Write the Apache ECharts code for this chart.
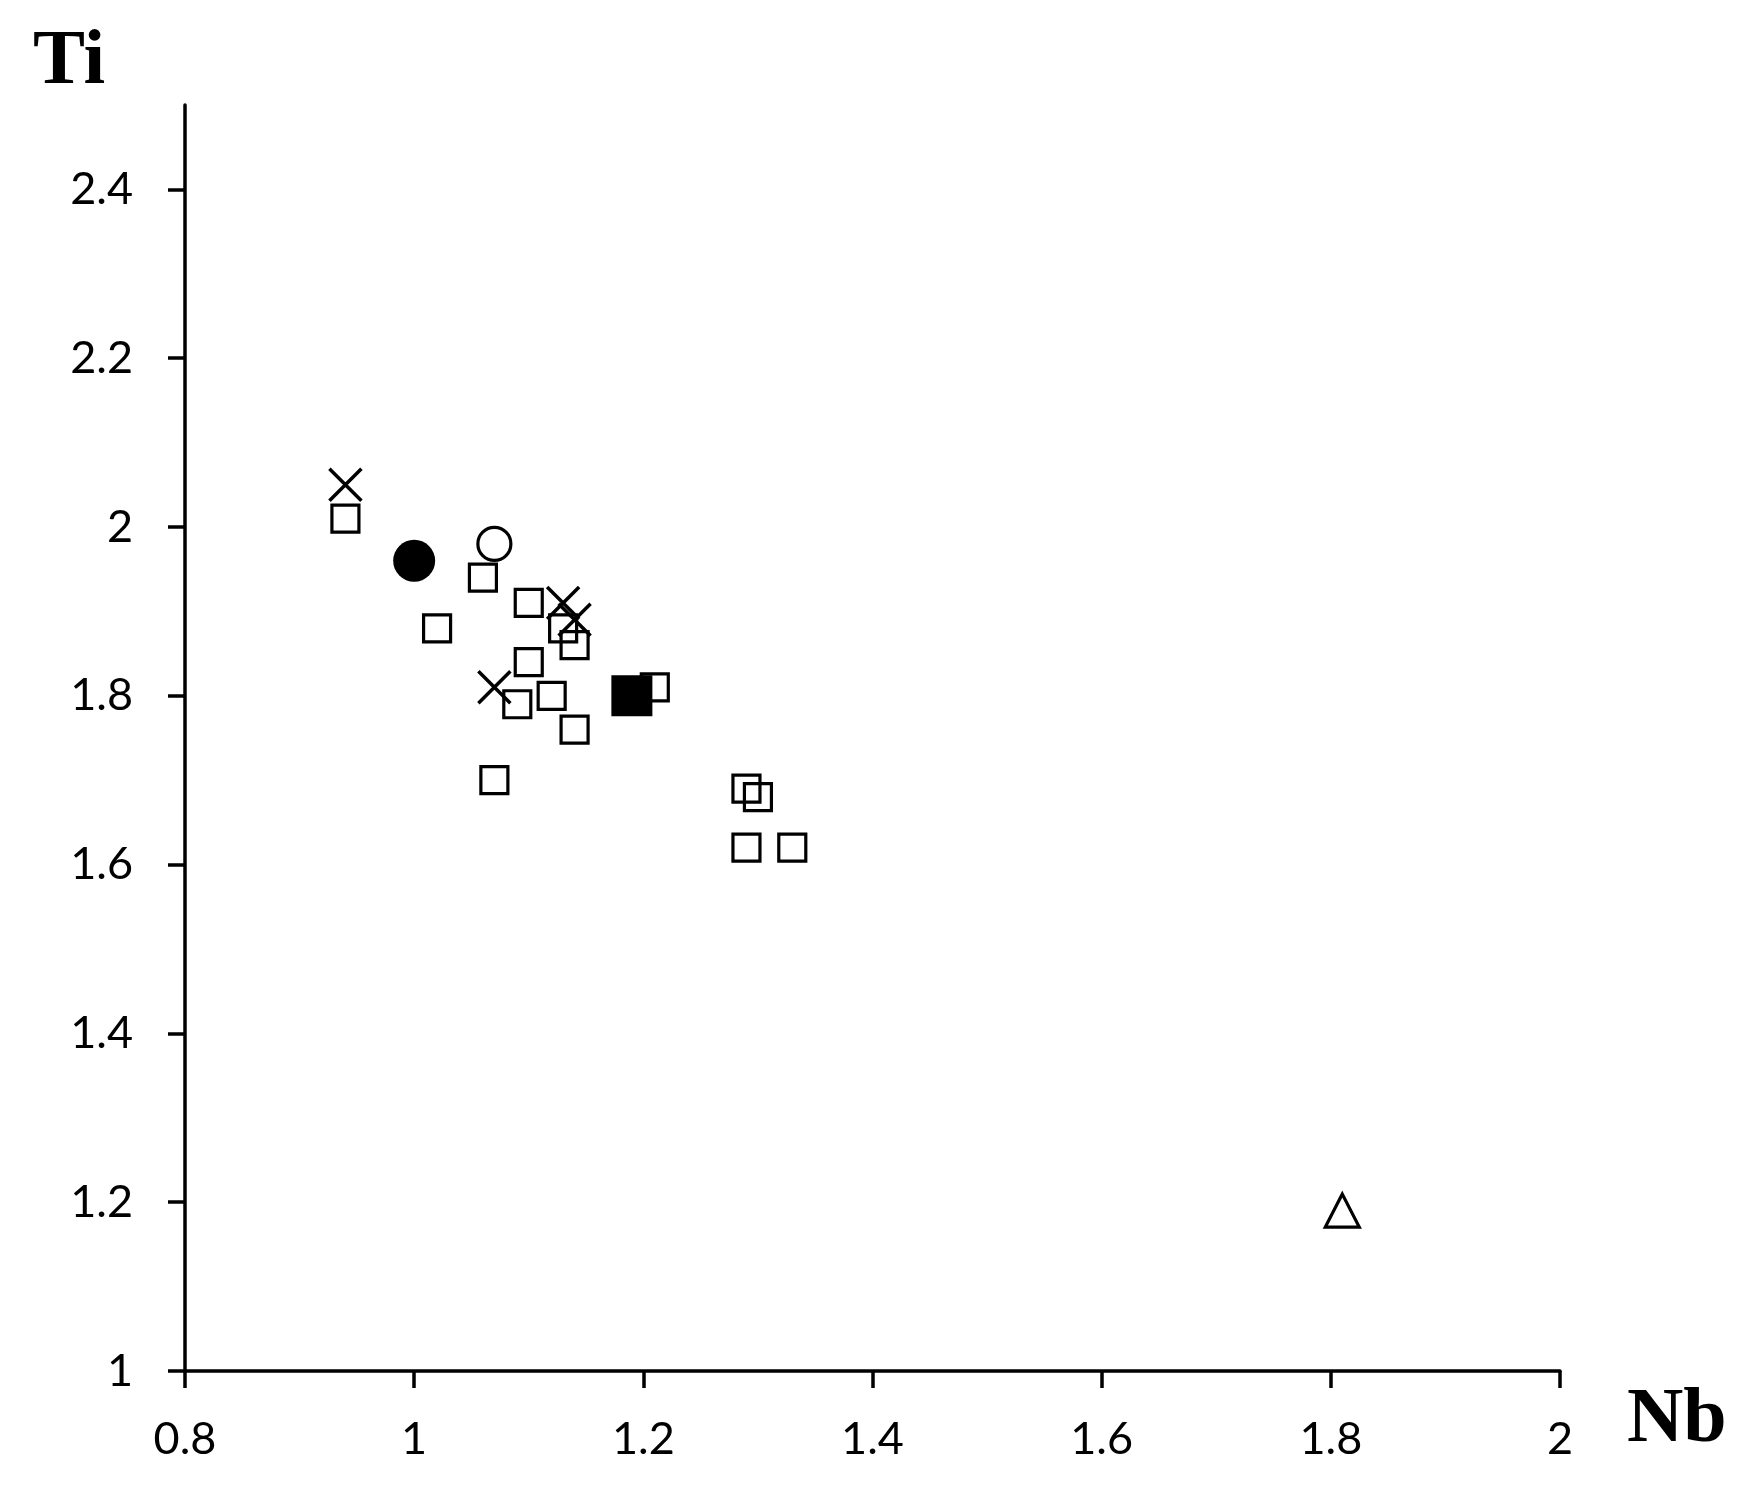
<!DOCTYPE html>
<html>
<head>
<meta charset="utf-8">
<script src="https://cdn.jsdelivr.net/npm/echarts@6/dist/echarts.min.js"></script>
<style>html,body{margin:0;padding:0;background:#fff}#c{width:1746px;height:1491px}</style>
</head>
<body>
<div id="c"></div>
<script>
// Data: [Nb, Ti]
const openSquares = [
  [0.94, 2.01], [1.06, 1.94], [1.10, 1.91], [1.13, 1.88], [1.14, 1.86],
  [1.02, 1.88], [1.10, 1.84], [1.09, 1.79], [1.12, 1.80], [1.14, 1.76],
  [1.07, 1.70], [1.21, 1.81], [1.29, 1.69], [1.30, 1.68], [1.29, 1.62],
  [1.33, 1.62]
];
const crosses = [[0.94, 2.05], [1.13, 1.91], [1.14, 1.89], [1.07, 1.81]];
const filledCircles = [[1.00, 1.96]];
const openCircles = [[1.07, 1.98]];
const filledSquares = [[1.19, 1.80]];
const openTriangles = [[1.81, 1.19]];
const yTickValues = [1, 1.2, 1.4, 1.6, 1.8, 2, 2.2, 2.4];
const xTitle = 'Nb';
const yTitle = 'Ti';

const chart = echarts.init(document.getElementById('c'));
const labelStyle = { color: '#000', fontFamily: 'Lato', fontSize: 45 };
const lineStyle = { color: '#000', width: 3.5 };
const open = { color: 'transparent', borderColor: '#000', borderWidth: 3.2, opacity: 1 };

chart.setOption({
  animation: false,
  backgroundColor: '#fff',
  grid: { left: 185, right: 186, top: 105, bottom: 120, containLabel: false },
  xAxis: {
    type: 'value', min: 0.8, max: 2, interval: 0.2,
    axisLine: { show: true, onZero: false, lineStyle: lineStyle },
    axisTick: { show: true, length: 17, inside: false, lineStyle: lineStyle },
    splitLine: { show: false },
    axisLabel: Object.assign({ margin: 46 }, labelStyle)
  },
  yAxis: {
    type: 'value', min: 1, max: 2.5,
    axisLine: { show: true, onZero: false, lineStyle: lineStyle },
    axisTick: { show: true, length: 17, inside: false, lineStyle: lineStyle, customValues: yTickValues },
    splitLine: { show: false },
    axisLabel: Object.assign({ margin: 52, customValues: yTickValues }, labelStyle)
  },
  graphic: [
    { type: 'text', left: 33, top: 24, style: { text: yTitle, fill: '#000', font: 'bold 78px "Liberation Serif"' } },
    { type: 'text', left: 1627, top: 1382, style: { text: xTitle, fill: '#000', font: 'bold 78px "Liberation Serif"' } }
  ],
  series: [
    { type: 'scatter', name: 'open square', data: openSquares, symbol: 'rect', symbolSize: 27, itemStyle: open, z: 2 },
    { type: 'scatter', name: 'cross', data: crosses, symbol: 'path://M0,0L10,10M10,0L0,10', symbolSize: 32, itemStyle: { color: 'transparent', borderColor: '#000', borderWidth: 3.5, opacity: 1 }, z: 3 },
    { type: 'scatter', name: 'filled circle', data: filledCircles, symbol: 'circle', symbolSize: 42, itemStyle: { color: '#000', opacity: 1 }, z: 3 },
    { type: 'scatter', name: 'open circle', data: openCircles, symbol: 'circle', symbolSize: 33, itemStyle: open, z: 3 },
    { type: 'scatter', name: 'filled square', data: filledSquares, symbol: 'rect', symbolSize: 41, itemStyle: { color: '#000', opacity: 1 }, z: 3 },
    { type: 'scatter', name: 'open triangle', data: openTriangles, symbol: 'triangle', symbolSize: [34, 33], itemStyle: open, z: 3 }
  ]
});
</script>
</body>
</html>
